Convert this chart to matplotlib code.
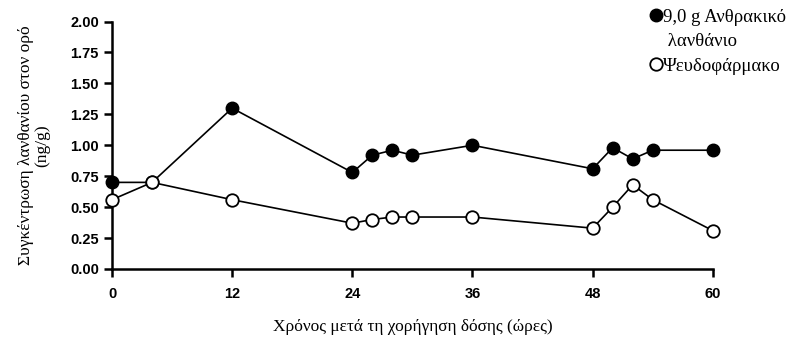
import matplotlib.pyplot as plt
from matplotlib.lines import Line2D

hours_la = [0, 4, 12, 24, 26, 28, 30, 36, 48, 50, 52, 54, 60]
conc_la = [0.70, 0.70, 1.30, 0.78, 0.92, 0.96, 0.92, 1.00, 0.81, 0.98, 0.89, 0.96, 0.96]

hours_pl = [0, 4, 12, 24, 26, 28, 30, 36, 48, 50, 52, 54, 60]
conc_pl = [0.56, 0.70, 0.56, 0.37, 0.40, 0.42, 0.42, 0.42, 0.33, 0.50, 0.68, 0.56, 0.31]

xticks = [0, 12, 24, 36, 48, 60]
yticks = [0.00, 0.25, 0.50, 0.75, 1.00, 1.25, 1.50, 1.75, 2.00]

serif = ['Liberation Serif', 'DejaVu Serif']
sans = ['Liberation Sans', 'DejaVu Sans']

fig = plt.figure(figsize=(8, 3.39), dpi=100)
ax = fig.add_axes([0.14, 0.2065, 0.751, 0.73])

ax.plot(hours_la, conc_la, color='black', lw=1.2, marker='o', ms=9,
        mfc='black', mec='black', clip_on=False, zorder=3)
ax.plot(hours_pl, conc_pl, color='black', lw=1.2, marker='o', ms=9,
        mfc='white', mec='black', mew=1.3, clip_on=False, zorder=4)

ax.set_xlim(0, 60)
ax.set_ylim(0, 2.0)
ax.set_xticks(xticks)
ax.set_yticks(yticks)
ax.set_yticklabels([f'{v:.2f}' for v in yticks])
for s in ['top', 'right']:
    ax.spines[s].set_visible(False)
for s in ['left', 'bottom']:
    ax.spines[s].set_linewidth(1.8)
ax.tick_params(axis='both', width=1.8, length=6, labelsize=10.5, direction='out')
ax.tick_params(axis='x', pad=7)
for lab in ax.get_xticklabels() + ax.get_yticklabels():
    lab.set_family(sans)
    lab.set_fontweight('bold')

ax.set_xlabel('Χρόνος μετά τη χορήγηση δόσης (ώρες)', family=serif,
              fontsize=12.5, labelpad=13)
ax.set_ylabel('Συγκέντρωση λανθανίου στον ορό\n(ng/g)', family=serif,
              fontsize=12.5, labelpad=14, linespacing=1.05)

# legend: second line of the first label gets an empty handle
handles = [Line2D([], [], ls='none', marker='o', ms=9, mfc='black', mec='black'),
           Line2D([], [], ls='none', marker='none'),
           Line2D([], [], ls='none', marker='o', ms=9, mfc='white', mec='black', mew=1.3)]
fig.legend(handles, ['9,0 g Ανθρακικό', ' λανθάνιο', 'Ψευδοφάρμακο'],
           loc='upper left', bbox_to_anchor=(0.792, 1.025), frameon=False,
           handlelength=0.6, handletextpad=0.05, labelspacing=0.4,
           prop={'family': serif, 'size': 13.5})

fig.savefig('out.png', dpi=100)
